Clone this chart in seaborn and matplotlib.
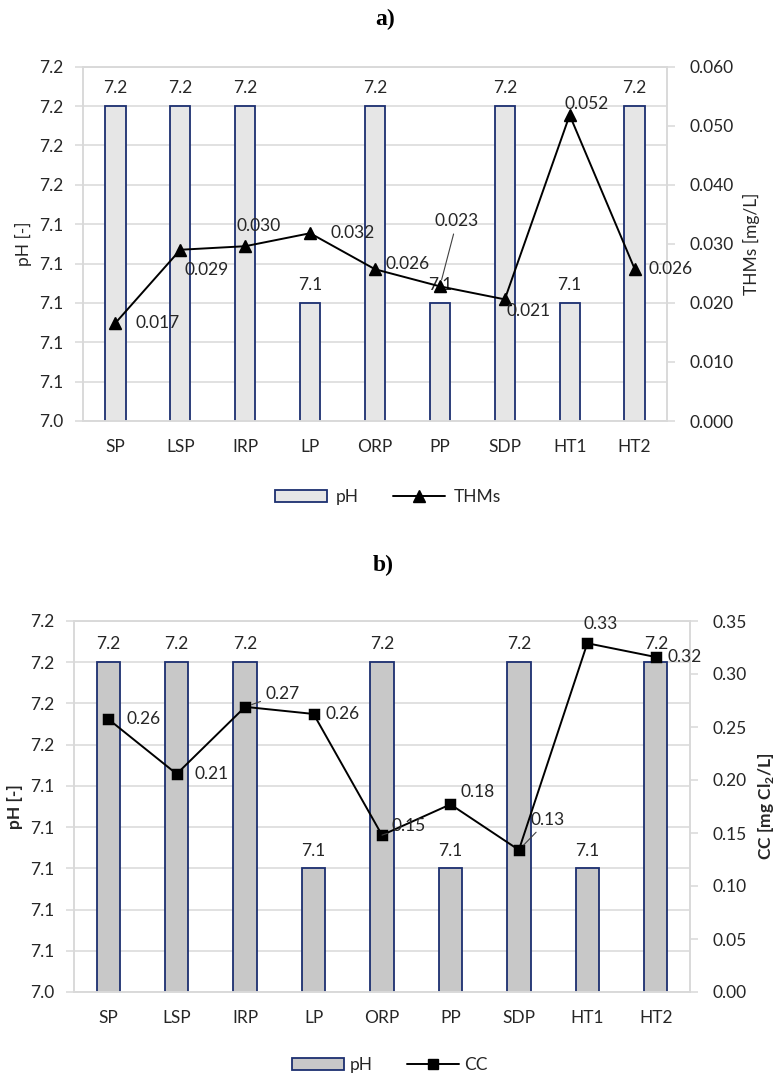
import matplotlib
matplotlib.use("Agg")
import matplotlib.pyplot as plt
import seaborn as sns
import numpy as np
from matplotlib.patches import Patch
from matplotlib.lines import Line2D
from matplotlib.ticker import FormatStrFormatter, FixedLocator

# ---------------- data ----------------
sites = ["SP", "LSP", "IRP", "LP", "ORP", "PP", "SDP", "HT1", "HT2"]
ph_a = [7.20, 7.20, 7.20, 7.10, 7.20, 7.10, 7.20, 7.10, 7.20]
thms = [0.0166, 0.0290, 0.0296, 0.0318, 0.0257, 0.0228, 0.0206, 0.0518, 0.0258]
ph_b = [7.20, 7.20, 7.20, 7.10, 7.20, 7.10, 7.20, 7.10, 7.20]
cc = [0.2575, 0.2057, 0.269, 0.2623, 0.148, 0.177, 0.134, 0.329, 0.316]
ph_ticks = [7.04, 7.06, 7.08, 7.10, 7.12, 7.14, 7.16, 7.18, 7.20, 7.22]
thms_ticks = [0.000, 0.010, 0.020, 0.030, 0.040, 0.050, 0.060]
cc_ticks = [0.00, 0.05, 0.10, 0.15, 0.20, 0.25, 0.30, 0.35]

# label offsets (pixels) and alignment, style only
offs_a = [(20, 0, "left"), (4, -20, "left"), (13, 20, "center"), (20, 0, "left"),
          (10, 5, "left"), (17, 65, "center"), (2, -12, "left"), (17, 11, "center"),
          (14, 0, "left")]
lead_a = [False, False, False, False, False, True, False, False, False]
offs_b = [(18, 0, "left"), (18, 0, "left"), (20, 13, "left"), (12, 0, "left"),
          (10, 9, "left"), (10, 12, "left"), (12, 30, "left"), (13, 19, "center"),
          (12, 0, "left")]
lead_b = [False, False, True, False, True, False, True, False, False]

sns.set_theme(style="white")
plt.rcParams["font.family"] = ["Lato", "DejaVu Sans"]
plt.rcParams["mathtext.fontset"] = "custom"
plt.rcParams["mathtext.rm"] = "Lato"
plt.rcParams["mathtext.bf"] = "Lato:bold"

GRID = "#d9d9d9"
EDGE = "#1c2f70"
TXT = "#262626"
FS = 12.5

fig = plt.figure(figsize=(7.8, 10.76), dpi=100)
W, H = 780.0, 1076.0


def make_panel(rect, ph, line_vals, line_ticks, line_fmt, bar_color, marker, msize,
               bar_w, ylab_l, ylab_r, lab_weight, offs, leads, val_fmt):
    l, t, r, b = rect
    ax = fig.add_axes([l / W, 1 - b / H, (r - l) / W, (b - t) / H])
    sns.barplot(x=sites, y=ph, ax=ax, color=bar_color, saturation=1, width=bar_w,
                edgecolor=EDGE, linewidth=1.3, errorbar=None, zorder=2)
    ax.set_ylim(ph_ticks[0], ph_ticks[-1])
    ax.yaxis.set_major_locator(FixedLocator(ph_ticks))
    ax.yaxis.set_major_formatter(FormatStrFormatter("%.1f"))
    ax.set_axisbelow(True)
    ax.yaxis.grid(True, color=GRID, lw=1.1)
    ax.xaxis.grid(False)
    for s in ax.spines.values():
        s.set_color(GRID)
        s.set_linewidth(1.1)
    ax.bar_label(ax.containers[0], fmt="%.1f", padding=7, fontsize=FS, color=TXT)
    ax.set_xticks(range(len(sites)))
    ax.set_xticks(np.arange(-0.5, len(sites), 1.0), minor=True)
    ax.tick_params(axis="x", which="major", length=0, pad=13, labelsize=FS, colors=TXT)
    ax.tick_params(axis="x", which="minor", length=6, color=GRID, width=1.1)
    ax.tick_params(axis="y", length=6, color=GRID, width=1.1, pad=8, labelsize=FS,
                   labelcolor=TXT, left=True)
    ax.set_xlabel("")
    ax.set_ylabel(ylab_l, fontsize=FS, color=TXT, weight=lab_weight, labelpad=5)

    ax2 = ax.twinx()
    sns.pointplot(x=sites, y=line_vals, ax=ax2, color="black", markers=marker,
                  linestyles="-", markersize=msize, linewidth=1.4, errorbar=None)
    ax2.set_ylim(line_ticks[0], line_ticks[-1])
    ax2.yaxis.set_major_locator(FixedLocator(line_ticks))
    ax2.yaxis.set_major_formatter(FormatStrFormatter(line_fmt))
    ax2.tick_params(axis="y", length=6, color=GRID, width=1.1, pad=10, labelsize=FS,
                    labelcolor=TXT, right=True)
    for s in ax2.spines.values():
        s.set_color(GRID)
        s.set_linewidth(1.1)
    ax2.grid(False)
    ax2.set_ylabel(ylab_r, fontsize=FS, color=TXT, weight=lab_weight, labelpad=7)
    ax2.set_xlim(-0.5, len(sites) - 0.5)

    for i, v in enumerate(line_vals):
        dx, dy, ha = offs[i]
        kw = {}
        if leads[i]:
            kw["arrowprops"] = dict(arrowstyle="-", color="#404040", lw=0.8,
                                    shrinkA=1, shrinkB=5)
        ax2.annotate(val_fmt % v, xy=(i, v), xytext=(dx, dy), textcoords="offset pixels",
                     ha=ha, va="center", fontsize=FS, color=TXT, **kw)
    return ax, ax2


# ---- panel a ----
make_panel((83, 66.7, 667, 421), ph_a, thms, thms_ticks, "%.3f", "#e6e6e6", "^", 9,
           0.31, "pH [-]", "THMs [mg/L]", "normal", offs_a, lead_a, "%.3f")
fig.text(385 / W, 1 - 19 / H, "a)", family="Liberation Serif", weight="bold",
         fontsize=17, ha="center", va="center", color="black")
h_a = [Patch(facecolor="#e6e6e6", edgecolor=EDGE, lw=1.3),
       Line2D([], [], color="black", marker="^", ms=9, lw=1.4)]
fig.legend(h_a, ["pH", "THMs"], loc="center", bbox_to_anchor=(388 / W, 1 - 497 / H),
           ncol=2, frameon=False, fontsize=FS, handlelength=3.0, columnspacing=2.0,
           handletextpad=0.5, labelcolor=TXT)

# ---- panel b ----
make_panel((74, 621, 690, 992), ph_b, cc, cc_ticks, "%.2f", "#c8c8c8", "s", 7,
           0.34, "pH [-]", r"CC [mg Cl$_\mathbf{2}$/L]", "bold", offs_b, lead_b, "%.2f")
fig.text(383 / W, 1 - 565 / H, "b)", family="Liberation Serif", weight="bold",
         fontsize=17, ha="center", va="center", color="black")
h_b = [Patch(facecolor="#c8c8c8", edgecolor=EDGE, lw=1.3),
       Line2D([], [], color="black", marker="s", ms=7, lw=1.4)]
fig.legend(h_b, ["pH", "CC"], loc="center", bbox_to_anchor=(390 / W, 1 - 1065 / H),
           ncol=2, frameon=False, fontsize=FS, handlelength=3.0, columnspacing=2.0,
           handletextpad=0.3, labelcolor=TXT)

fig.savefig("out.png", dpi=100)
